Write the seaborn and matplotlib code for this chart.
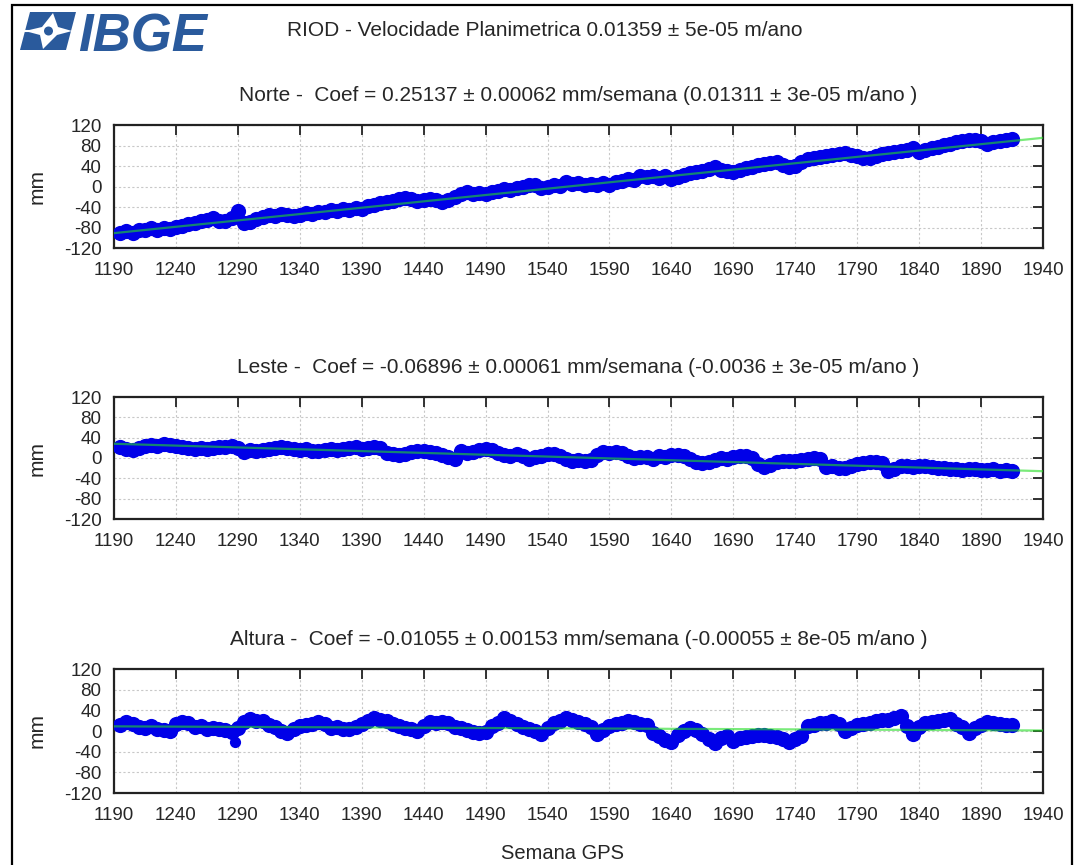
import matplotlib
matplotlib.use("Agg")
import matplotlib.pyplot as plt
import numpy as np
import pandas as pd
import seaborn as sns
from matplotlib.patches import Rectangle, Polygon, Circle

# semanas GPS amostradas (a cada 5 semanas)
weeks = list(range(1195, 1916, 5))

norte_mm = [
    -91, -87, -90, -84, -85, -81, -84, -80, -83, -79,
    -77, -73, -72, -67, -66, -62, -67, -68, -61, -48,
    -72, -70, -63, -60, -56, -58, -53, -55, -58, -55,
    -51, -53, -49, -50, -46, -48, -44, -46, -42, -43,
    -38, -36, -32, -30, -28, -25, -23, -25, -28, -27,
    -24, -27, -31, -26, -20, -15, -11, -14, -12, -15,
    -10, -8, -5, -7, -3, 0, 3, 2, -2, 0,
    3, 1, 8, 5, 6, 3, 5, 3, 6, 2,
    8, 11, 15, 13, 20, 18, 21, 17, 20, 15,
    18, 23, 26, 28, 31, 35, 38, 33, 31, 29,
    33, 36, 38, 41, 43, 45, 47, 42, 38, 40,
    47, 53, 56, 58, 60, 62, 64, 66, 62, 59,
    56, 55, 59, 63, 66, 68, 70, 72, 75, 68,
    71, 75, 78, 81, 83, 86, 89, 91, 90, 88,
    82, 87, 89, 91, 93,
]

leste_mm = [
    21, 18, 16, 19, 24, 26, 24, 27, 26, 23,
    22, 19, 17, 20, 18, 20, 22, 21, 24, 20,
    12, 15, 13, 16, 18, 20, 22, 19, 17, 16,
    18, 14, 13, 15, 17, 15, 18, 19, 21, 18,
    20, 22, 19, 9, 8, 6, 7, 11, 13, 14,
    12, 9, 6, 1, -1, 14, 9, 12, 16, 17,
    15, 10, 6, 4, 7, 3, -2, 1, 4, 7,
    8, 4, -2, -5, -4, -6, -3, 6, 11, 10,
    12, 9, 3, 0, 2, 1, -1, 3, 1, 5,
    6, 3, -2, -8, -10, -7, -4, 0, -2, 1,
    3, 4, 0, -12, -18, -14, -8, -6, -5, -5,
    -3, -1, 0, -2, -18, -15, -19, -20, -16, -12,
    -10, -8, -7, -9, -26, -22, -16, -15, -17, -15,
    -15, -17, -19, -20, -21, -22, -23, -22, -21, -23,
    -24, -22, -25, -24, -26,
]

altura_mm = [
    12, 17, 14, 8, 5, 9, 4, 2, 0, 14,
    17, 15, 7, 10, 4, 6, 3, 1, -2, 5,
    18, 24, 20, 19, 12, 7, 0, -3, 4, 10,
    12, 14, 18, 13, 6, 8, 4, 3, 8, 13,
    20, 26, 22, 19, 13, 9, 6, 3, 0, 10,
    18, 15, 17, 16, 8, 5, 2, -1, -3, -2,
    10, 16, 25, 20, 13, 8, 3, 0, -6, 5,
    16, 20, 25, 22, 17, 13, 8, -6, 2, 10,
    13, 16, 19, 17, 14, 11, -3, -10, -18, -21,
    -8, 0, 6, 1, -5, -15, -23, -14, -9, -20,
    -14, -12, -9, -7, -8, -10, -12, -15, -21, -16,
    -10, 10, 12, 16, 15, 19, 14, 0, 6, 11,
    13, 16, 19, 21, 22, 25, 29, 10, -6, 8,
    16, 17, 19, 21, 24, 13, 8, -3, 6, 12,
    18, 15, 14, 12, 11,
]
# ponto isolado na componente altura
altura_extra_week = [1288]
altura_extra_mm = [-21]

# retas ajustadas
fit_weeks = [1190, 1940]
norte_fit = [-91, 95]
leste_fit = [28, -26]
altura_fit = [9, 1]

suptitle = "RIOD - Velocidade Planimetrica 0.01359 \u00b1 5e-05 m/ano"
titles = [
    "Norte -  Coef = 0.25137 \u00b1 0.00062 mm/semana (0.01311 \u00b1 3e-05 m/ano )",
    "Leste -  Coef = -0.06896 \u00b1 0.00061 mm/semana (-0.0036 \u00b1 3e-05 m/ano )",
    "Altura -  Coef = -0.01055 \u00b1 0.00153 mm/semana (-0.00055 \u00b1 8e-05 m/ano )",
]
xticks = list(range(1190, 1941, 50))
yticks = list(range(-120, 121, 40))

sns.set_theme(style="white")
plt.rcParams["font.family"] = ["Liberation Sans", "DejaVu Sans"]
plt.rcParams["axes.unicode_minus"] = False

W, H = 1080, 865
fig = plt.figure(figsize=(W / 100, H / 100), dpi=100)

# caixas dos paineis (pixels: esquerda, topo, direita, base)
boxes = [(114, 125, 1043, 248), (114, 397, 1043, 519), (114, 669, 1043, 793)]
series = [norte_mm, leste_mm, altura_mm]
fits = [norte_fit, leste_fit, altura_fit]
dot = "#0000e8"

for i, (l, t, r, b) in enumerate(boxes):
    ax = fig.add_axes([l / W, 1 - b / H, (r - l) / W, (b - t) / H])
    df = pd.DataFrame({"week": weeks, "mm": series[i]})
    sns.scatterplot(data=df, x="week", y="mm", ax=ax, color=dot,
                    s=120, linewidth=0, zorder=3)
    if i == 2:
        sns.scatterplot(x=altura_extra_week, y=altura_extra_mm, ax=ax,
                        color=dot, s=65, linewidth=0, zorder=3)
    sns.lineplot(x=fit_weeks, y=fits[i], ax=ax, color="#22dd22",
                 lw=1.6, alpha=0.6, zorder=4)
    ax.set_xlim(1190, 1940)
    ax.set_ylim(-120, 120)
    ax.set_xticks(xticks)
    ax.set_yticks(yticks)
    ax.grid(True, ls=(0, (2, 2)), color="#c8c8c8", lw=0.8)
    ax.tick_params(direction="in", top=True, right=True, length=7,
                   width=1.3, labelsize=13.5, color="#222222")
    ax.tick_params(axis="x", pad=10)
    ax.tick_params(axis="y", pad=9)
    for sp in ax.spines.values():
        sp.set_color("#222222")
        sp.set_linewidth(1.6)
    ax.set_title(titles[i], fontsize=15, pad=17)
    ax.set_ylabel("mm", fontsize=15)
    ax.yaxis.set_label_coords(-0.073, 0.5)
    if i == 2:
        ax.set_xlabel("Semana GPS", fontsize=14.5, va="center")
        ax.xaxis.set_label_coords(0.483, -0.484)
    else:
        ax.set_xlabel("")

fig.text(545 / W, 1 - 30 / H, suptitle, fontsize=15, ha="center", va="center")

# logotipo IBGE
lax = fig.add_axes([0, 1 - 62 / H, 240 / W, 62 / H])
lax.set_xlim(0, 240)
lax.set_ylim(62, 0)
lax.axis("off")
blue = "#2a5a9c"
lax.add_patch(Polygon([(20, 50), (66, 50), (76, 12), (30, 12)], closed=True,
                      fc=blue, ec="none"))
lax.add_patch(Polygon([(53, 13), (58, 27), (72, 31), (57, 35), (43, 49),
                       (40, 35), (25, 31), (42, 27)], closed=True,
                      fc="white", ec="none"))
lax.add_patch(Circle((48.5, 31), 4.5, fc=blue, ec="none"))
lax.plot([22, 30], [31, 31], color="white", lw=1.5)
lax.text(78, 51, "IBGE", fontsize=38, fontweight="bold", fontstyle="italic",
         color=blue, ha="left", va="baseline")

# moldura
fig.add_artist(Rectangle((12 / W, -0.05), (1072 - 12) / W, 1.05 - 5 / H,
                         transform=fig.transFigure, fill=False,
                         ec="black", lw=1.6))

fig.savefig("out.png", dpi=100)
